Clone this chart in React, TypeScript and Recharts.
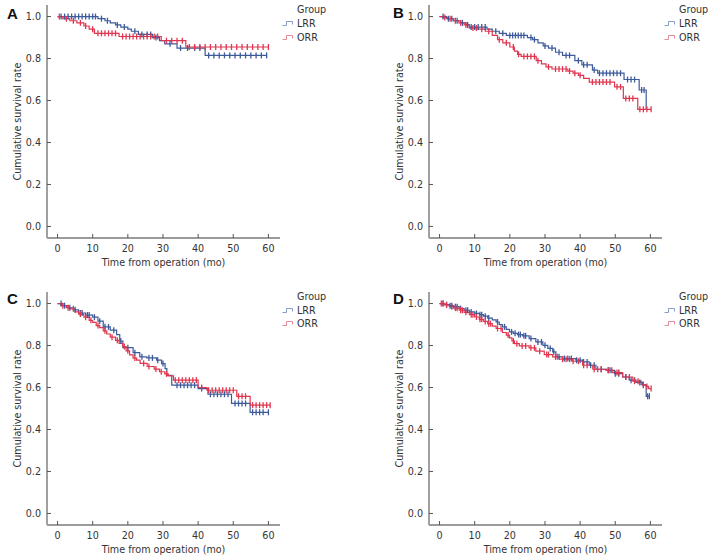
import { LineChart, Line, XAxis, YAxis } from "recharts";

const FONT = '"DejaVu Sans", Verdana, sans-serif';
const BLUE = "#3d5b9b";
const RED = "#e0364f";
const LEGEND_COLORS = ["#8a9cc6", "#e98a9a"];

const groups = ["LRR", "ORR"];
const xTicks = [0, 10, 20, 30, 40, 50, 60];
const yTicks = [0, 0.2, 0.4, 0.6, 0.8, 1.0];

// A
const aLrrTime = [0, 11.5, 13.5, 15, 16.5, 18, 20, 21, 23, 27, 29, 30.5, 34, 42];
const aLrrSurv = [1, 0.99, 0.98, 0.97, 0.96, 0.95, 0.94, 0.93, 0.915, 0.9, 0.885, 0.87, 0.85, 0.815];
const aLrrCens = [1, 2, 3, 4, 5, 6, 7, 8, 9, 10, 10.8, 12.5, 14.2, 17, 19, 22, 24, 25.5, 26.5, 28, 32, 35, 37, 39, 40.5, 43, 44.5, 46, 47.5, 49, 50.5, 52, 53.5, 55, 56.5, 58, 59.5];
const aOrrTime = [0, 1.5, 3.5, 5.5, 7.5, 9, 10.5, 17.5, 29.5, 36.5];
const aOrrSurv = [1, 0.99, 0.98, 0.97, 0.955, 0.94, 0.92, 0.905, 0.885, 0.855];
const aOrrCens = [0.5, 2.5, 4.5, 6.5, 8, 10, 11.5, 12.5, 13.5, 14.5, 15.5, 16.5, 18.5, 19.5, 20.5, 21.5, 22.5, 23.5, 24.5, 25.5, 26.5, 27.5, 28.5, 31, 32.5, 34, 35.5, 37.5, 39, 40.5, 42, 43.5, 45, 46.5, 48, 49.5, 51, 52.5, 54, 55.5, 57, 58.5, 60];

// B
const bLrrTime = [0, 2, 4, 6, 7.5, 8.5, 13.5, 15, 17, 19, 25, 26.5, 28, 29.5, 31, 33, 35, 38.5, 40.5, 43.5, 45, 52.5, 56.8, 58.8];
const bLrrSurv = [1, 0.99, 0.98, 0.97, 0.96, 0.95, 0.94, 0.93, 0.92, 0.91, 0.9, 0.89, 0.875, 0.86, 0.85, 0.83, 0.815, 0.79, 0.77, 0.745, 0.73, 0.7, 0.65, 0.556];
const bLrrCens = [1, 2.5, 3.5, 5, 6.5, 8, 9, 10, 11, 12, 13, 16, 18, 20, 20.8, 21.6, 22.4, 23.2, 24, 26, 27, 30, 32, 34, 36, 37, 39.5, 41, 42, 44, 45.5, 46.5, 47.5, 48.5, 49.5, 50.5, 51.5, 53.5, 54.5, 55.5, 57.5, 58.2];
const bOrrTime = [0, 1, 2.5, 4, 5.5, 7, 8.5, 11, 13, 15, 16.5, 18, 20, 21.3, 22.2, 23.2, 27.5, 29, 30.3, 32, 36.5, 38, 39.5, 41, 42.6, 49.8, 52.3, 56.4];
const bOrrSurv = [1, 0.995, 0.99, 0.98, 0.97, 0.96, 0.945, 0.94, 0.93, 0.91, 0.89, 0.875, 0.855, 0.835, 0.82, 0.81, 0.79, 0.775, 0.76, 0.75, 0.74, 0.73, 0.72, 0.705, 0.688, 0.665, 0.61, 0.558];
const bOrrCens = [1.5, 3, 4.5, 6, 7.5, 9.5, 10.5, 12, 14, 17, 19, 21, 22.5, 24, 25, 26, 27, 28, 31, 33, 34, 35, 36, 37, 38.5, 40, 43.5, 44.5, 45.5, 46.5, 47.5, 48.5, 50.5, 51.5, 53, 54, 55, 57, 58, 59, 60.2];

// C
const cLrrTime = [0, 1.5, 3, 4.5, 6, 8, 10, 11.5, 13, 15, 16.8, 17.7, 18.6, 21.5, 23.4, 25.4, 28.2, 29.6, 30.6, 31.1, 32.5, 40, 42.8, 49.5, 54.8];
const cLrrSurv = [1, 0.99, 0.98, 0.97, 0.955, 0.945, 0.935, 0.916, 0.889, 0.873, 0.852, 0.821, 0.79, 0.766, 0.746, 0.741, 0.73, 0.714, 0.69, 0.658, 0.611, 0.595, 0.568, 0.524, 0.482];
const cLrrCens = [1, 2, 3.5, 5, 6.5, 7, 8.5, 9, 10.5, 12, 13.5, 14.5, 16, 18, 20, 22, 24, 26, 27, 28.5, 30, 34, 35, 36, 37, 38, 39, 41, 43.5, 44.5, 45.5, 46.5, 47.5, 48.5, 50.5, 51.5, 52.5, 53.5, 55.5, 56.5, 57.5, 58.5, 60];
const cOrrTime = [0, 1, 2.5, 3.5, 5, 6, 7.5, 9, 10, 11, 12, 13, 14, 15, 16.5, 17.5, 18.5, 19.5, 20.5, 21.5, 22.5, 23.5, 25.5, 27.5, 29, 30.5, 31.5, 33, 40, 42.5, 51, 54.8];
const cOrrSurv = [1, 0.99, 0.98, 0.975, 0.96, 0.95, 0.935, 0.92, 0.91, 0.895, 0.885, 0.87, 0.855, 0.84, 0.825, 0.81, 0.795, 0.775, 0.755, 0.74, 0.73, 0.715, 0.7, 0.688, 0.675, 0.665, 0.655, 0.635, 0.6, 0.587, 0.558, 0.516];
const cOrrCens = [1.5, 3, 4.5, 6.5, 8, 9.5, 11.5, 13.5, 15.5, 17, 19, 20, 22, 24.5, 26, 28, 29.5, 31, 33.5, 34.5, 35.5, 36.5, 37.5, 38.5, 39.5, 41, 43, 44, 45, 46, 47, 48, 49, 50, 51.5, 52.5, 53.5, 55.5, 56.5, 57.5, 58.5, 59.5, 60.5];

// D
const dLrrTime = [0, 1.5, 2.8, 4, 5.6, 7, 8.5, 10, 11.3, 12.5, 13.7, 15, 16.1, 17, 17.9, 19, 19.9, 21, 22.2, 23.6, 25.5, 27.4, 29.4, 30.8, 32.2, 33.1, 35, 38.8, 40.7, 42.6, 44.5, 47.4, 49.8, 52.1, 54, 55.9, 57.8, 58.8];
const dLrrSurv = [1, 0.995, 0.99, 0.985, 0.976, 0.968, 0.96, 0.953, 0.947, 0.94, 0.931, 0.922, 0.912, 0.9, 0.889, 0.877, 0.865, 0.858, 0.852, 0.846, 0.833, 0.817, 0.801, 0.786, 0.77, 0.746, 0.738, 0.73, 0.722, 0.706, 0.687, 0.682, 0.666, 0.65, 0.635, 0.624, 0.611, 0.558];
const dLrrCens = [1, 2, 3, 3.5, 4.5, 5, 6, 7.5, 8, 9, 10.5, 11.5, 12, 13, 14, 16.5, 18.5, 20.5, 21.5, 22.5, 23, 24, 24.5, 26, 28, 29, 30, 31.5, 32.5, 34, 35.5, 36.5, 37.5, 39, 40, 41, 42, 43, 44, 46, 48, 48.5, 50, 51, 53, 54.5, 55.5, 57, 58, 59.2, 59.7];
const dOrrTime = [0, 1.5, 2.8, 4, 5.6, 7, 8.5, 10, 11.3, 12.5, 13.7, 15, 16.1, 17.9, 19, 19.9, 20.6, 21.3, 22.7, 25.5, 27.4, 29.8, 32.2, 34.1, 37.9, 40.7, 43.6, 47.4, 49.3, 52.1, 55, 57.4, 58.8, 59.5];
const dOrrSurv = [1, 0.993, 0.985, 0.978, 0.968, 0.958, 0.947, 0.936, 0.925, 0.915, 0.904, 0.892, 0.881, 0.862, 0.85, 0.836, 0.822, 0.809, 0.798, 0.789, 0.773, 0.757, 0.746, 0.735, 0.725, 0.706, 0.687, 0.682, 0.671, 0.65, 0.63, 0.614, 0.605, 0.595];
const dOrrCens = [0.5, 1, 2, 3.5, 4.5, 5, 6, 6.5, 7.5, 9, 9.5, 10.5, 11.5, 12, 13, 14, 14.5, 16.5, 17.5, 19.5, 21, 22, 23.5, 24.5, 26, 27, 28.5, 30.5, 31, 33, 33.5, 35, 36, 37, 38, 39.5, 41, 42, 44, 45, 46, 48, 49, 50.5, 51, 53, 54, 55.5, 56.5, 58, 59, 60.2];

// step points + censor points, censor gets the survival in force at that time
function buildCurve(times: number[], surv: number[], cens: number[]) {
  const pts = times.map((t, i) => ({ t, s: surv[i], c: false }));
  cens.forEach((ct) => {
    let s = surv[0];
    times.forEach((tt, i) => {
      if (tt <= ct) s = surv[i];
    });
    pts.push({ t: ct, s, c: true });
  });
  pts.sort((a, b) => a.t - b.t || Number(a.c) - Number(b.c));
  return pts;
}

const panels = [
  { id: "A", left: 0, top: 0, letterX: 7, letterY: 18.5, lrr: buildCurve(aLrrTime, aLrrSurv, aLrrCens), orr: buildCurve(aOrrTime, aOrrSurv, aOrrCens) },
  { id: "B", left: 382, top: 0, letterX: 393, letterY: 18.2, lrr: buildCurve(bLrrTime, bLrrSurv, bLrrCens), orr: buildCurve(bOrrTime, bOrrSurv, bOrrCens) },
  { id: "C", left: 0, top: 286.6, letterX: 7, letterY: 303.7, lrr: buildCurve(cLrrTime, cLrrSurv, cLrrCens), orr: buildCurve(cOrrTime, cOrrSurv, cOrrCens) },
  { id: "D", left: 382, top: 286.6, letterX: 393, letterY: 304.1, lrr: buildCurve(dLrrTime, dLrrSurv, dLrrCens), orr: buildCurve(dOrrTime, dOrrSurv, dOrrCens) },
];

const censorDot = (color: string) => (props: any) => {
  const { cx, cy, payload, index } = props;
  if (!payload || !payload.c || cx == null || cy == null) return <g key={`n${index}`} />;
  return <line key={`c${index}`} x1={cx} x2={cx} y1={cy - 3} y2={cy + 3} stroke={color} strokeWidth={1.3} />;
};

const yTitle = (props: any) => {
  const vb = props.viewBox || { x: 0, y: 5, width: 47, height: 233 };
  const cy = vb.y + vb.height / 2;
  return (
    <text transform={`translate(21, ${cy}) rotate(-90)`} textAnchor="middle" fontFamily={FONT} fontSize={9.6} fill="#333">
      Cumulative survival rate
    </text>
  );
};

const xTitle = (props: any) => {
  const vb = props.viewBox || { x: 47, y: 238, width: 233, height: 37 };
  return (
    <text x={vb.x + vb.width / 2} y={vb.y + 28} textAnchor="middle" fontFamily={FONT} fontSize={9.6} fill="#333">
      Time from operation (mo)
    </text>
  );
};

const tickStyle = { fontFamily: FONT, fontSize: 9.6, fill: "#333" };

const Panel = ({ p }: { p: (typeof panels)[number] }) => (
  <div style={{ position: "absolute", left: p.left, top: p.top }}>
    <LineChart width={330} height={272} margin={{ top: 5, right: 50, bottom: 0, left: 0 }}>
      <XAxis
        dataKey="t"
        type="number"
        domain={[-3, 63.3]}
        ticks={xTicks}
        allowDataOverflow
        height={34}
        tickSize={-4}
        tickMargin={11}
        tick={tickStyle}
        axisLine={{ stroke: "#7a7a7a", strokeWidth: 1.3 }}
        tickLine={{ stroke: "#555" }}
        label={xTitle}
      />
      <YAxis
        dataKey="s"
        type="number"
        domain={[-0.055, 1.055]}
        ticks={yTicks}
        allowDataOverflow
        width={47}
        tickSize={-4}
        tickMargin={10}
        tick={tickStyle}
        tickFormatter={(v: number) => v.toFixed(1)}
        axisLine={{ stroke: "#a0a0a0", strokeWidth: 2 }}
        tickLine={{ stroke: "#555" }}
        label={yTitle}
      />
      <Line
        data={p.lrr}
        dataKey="s"
        type="stepAfter"
        stroke={BLUE}
        strokeWidth={1.2}
        dot={censorDot(BLUE)}
        activeDot={false}
        isAnimationActive={false}
      />
      <Line
        data={p.orr}
        dataKey="s"
        type="stepAfter"
        stroke={RED}
        strokeWidth={1.2}
        dot={censorDot(RED)}
        activeDot={false}
        isAnimationActive={false}
      />
    </LineChart>
    <div
      style={{
        position: "absolute",
        left: 282,
        top: 3.3,
        fontFamily: FONT,
        fontSize: 9.6,
        color: "#333",
        lineHeight: "13.8px",
        whiteSpace: "nowrap",
      }}
    >
      <div style={{ paddingLeft: 15 }}>Group</div>
      {groups.map((g, i) => (
        <div key={g} style={{ display: "flex", alignItems: "center" }}>
          <svg width={12} height={8} style={{ marginRight: 3 }}>
            <path d="M0.5 5.5 H4.5 V1.5 H10.5 V4.5" fill="none" stroke={LEGEND_COLORS[i]} strokeWidth={1} />
          </svg>
          {g}
        </div>
      ))}
    </div>
  </div>
);

export default function App() {
  return (
    <div style={{ position: "absolute", left: 0, top: 0, width: 712, height: 559, background: "#fff", overflow: "hidden" }}>
      {panels.map((p) => (
        <Panel key={p.id} p={p} />
      ))}
      <svg width={712} height={559} style={{ position: "absolute", left: 0, top: 0, pointerEvents: "none" }}>
        {panels.map((p) => (
          <text key={p.id} x={p.letterX} y={p.letterY} fontFamily='"Liberation Sans", Arial, sans-serif' fontWeight="bold" fontSize={15} fill="#111">
            {p.id}
          </text>
        ))}
      </svg>
    </div>
  );
}
